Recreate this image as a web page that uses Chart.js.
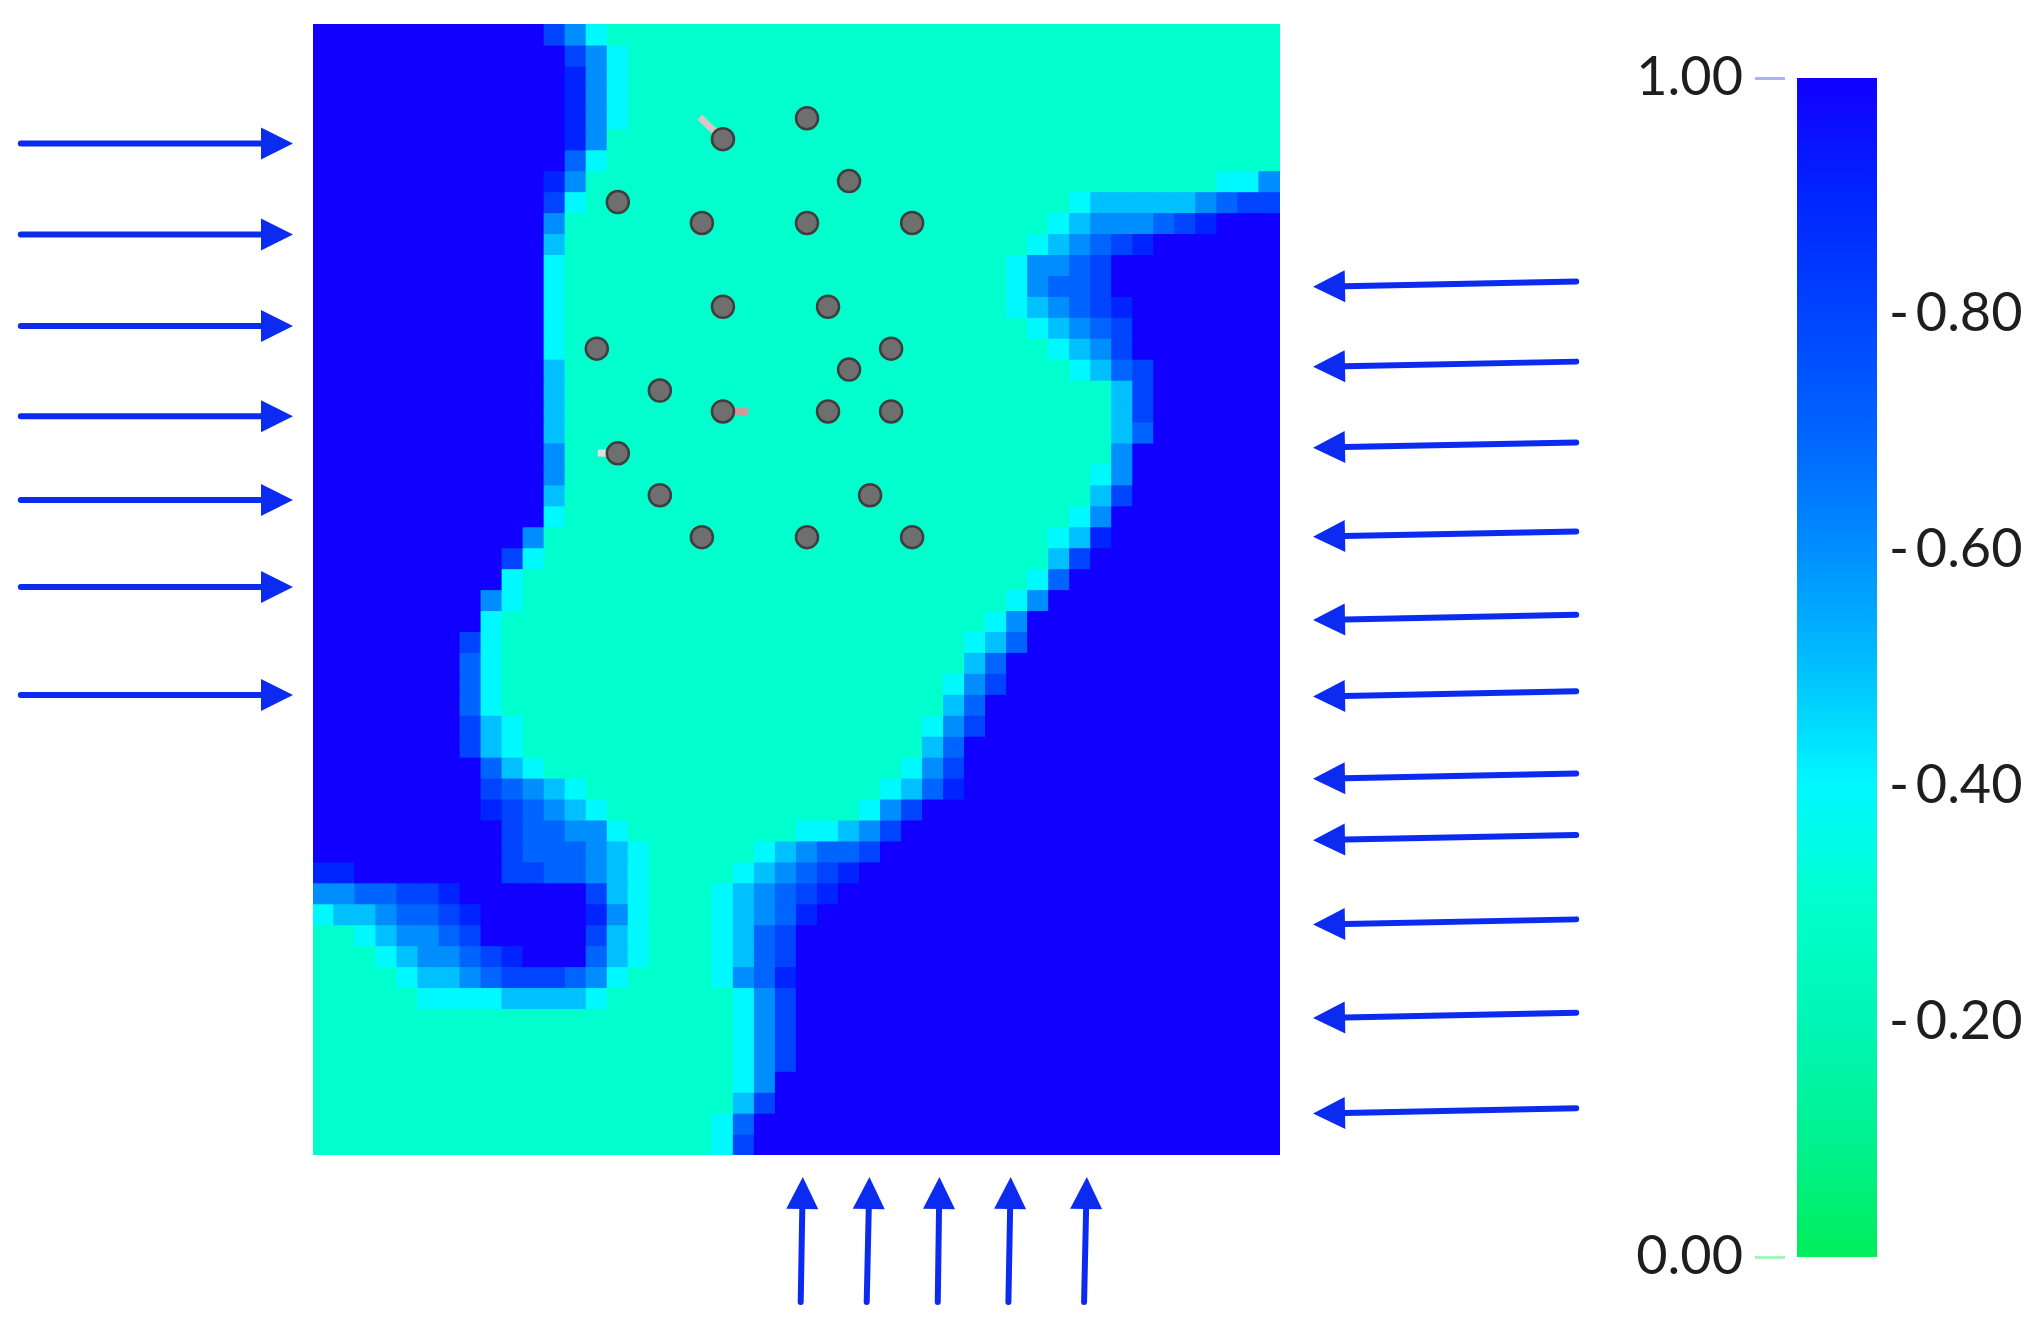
<!DOCTYPE html>
<html>
<head>
<meta charset="utf-8">
<script src="https://cdn.jsdelivr.net/npm/chart.js@4.4.0/dist/chart.umd.min.js"></script>
<style>
  body { margin: 0; background: #fff; }
  #wrap { position: relative; width: 2037px; height: 1320px; }
  #field-chart { position: absolute; left: 0; top: 0; }
  #scale-chart { position: absolute; left: 1600px; top: 0; }
</style>
</head>
<body>
<div id="wrap">
  <canvas id="field-chart" width="1600" height="1320"></canvas>
  <canvas id="scale-chart" width="437" height="1320"></canvas>
</div>
<script>
// field grid: 46 columns x 54 rows, one string per row (top to bottom)
// run-length tokens "level:count", level B = 1.00, digit d = d/10
const nCols = 46;
const fieldRows = [
  'B:11 8 6 4 3:32',
  'B:12 8 6 4 3:31',
  'B:12 9 6 4 3:31',
  'B:12 9 6 4 3:31',
  'B:12 9 6 4 3:31',
  'B:12 9 6 3:32',
  'B:12 7 4 3:32',
  'B:11 9 6 3:30 4 4 6',
  'B:11 8 4 3:23 4 5:5 6 7 8 8',
  'B:11 6 3:23 4 5 6:3 7 8 9 B:3',
  'B:11 5 3:22 4 5 6 7 8 9 B:6',
  'B:11 4 3:21 4 6 6 7 8 B:8',
  'B:11 4 3:21 4 6 7 7 8 B:8',
  'B:11 4 3:21 4 5 6 7 8 9 B:7',
  'B:11 4 3:22 4 5 6 7 8 B:7',
  'B:11 4 3:23 4 5 6 8 B:7',
  'B:11 5 3:24 4 5 7 8 B:6',
  'B:11 5 3:26 5 8 B:6',
  'B:11 5 3:26 5 8 B:6',
  'B:11 5 3:26 5 7 B:6',
  'B:11 6 3:26 6 B:7',
  'B:11 6 3:25 4 6 B:7',
  'B:11 5 3:25 5 8 B:7',
  'B:11 4 3:24 4 6 B:8',
  'B:10 6 3:24 4 5 9 B:8',
  'B:9 8 4 3:24 5 8 B:9',
  'B:9 4 3:24 4 7 B:10',
  'B:8 6 4 3:23 4 6 B:11',
  'B:8 4 3:23 4 6 B:12',
  'B:7 8 4 3:22 4 5 7 B:12',
  'B:7 7 4 3:22 5 7 B:13',
  'B:7 7 4 3:21 4 6 8 B:13',
  'B:7 7 4 3:21 5 7 B:14',
  'B:7 8 5 4 3:19 4 6 8 B:14',
  'B:7 8 5 4 3:19 5 7 B:15',
  'B:8 7 5 4 3:17 4 6 8 B:15',
  'B:8 8 7 6 5 4 3:14 4 5 7 9 B:15',
  'B:8 9 8 7 6 5 4 3:12 4 6 8 B:17',
  'B:9 8 7 7 6 6 4 3:8 4 4 5 6 8 B:18',
  'B:9 8 7 7 7 6 5 4 3:5 4 5 6 7 7 8 B:19',
  '9 9 B:7 8 8 7 7 6 5 4 3:4 4 5 6 7 8 9 B:20',
  '6 6 7 7 8 8 9 B:6 8 5 4 3:3 4 5 6 7 8 9 B:21',
  '4 5 5 6 7 7 8 9 B:5 9 6 4 3:3 4 5 6 7 9 B:22',
  '3 3 4 5 6 6 7 8 B:5 8 5 4 3:3 4 5 7 8 B:23',
  '3:3 4 5 6 6 7 8 9 B:3 7 5 4 3:3 4 5 7 8 B:23',
  '3:4 4 5 5 6 7 8 8 8 7 6 4 3:4 4 6 7 9 B:23',
  '3:5 4 4 4 4 5 5 5 5 4 3:6 4 6 8 B:23',
  '3:20 4 6 8 B:23',
  '3:20 4 6 8 B:23',
  '3:20 4 6 8 B:23',
  '3:20 4 6 B:24',
  '3:20 5 8 B:24',
  '3:19 4 7 B:25',
  '3:19 4 8 B:25'
];

// particles (grid units, cell centres)
const particleX = [23.5, 19.5, 25.5, 14.5, 18.5, 23.5, 28.5, 19.5, 24.5, 13.5, 27.5, 25.5, 16.5, 19.5, 24.5, 27.5, 14.5, 16.5, 26.5, 18.5, 23.5, 28.5];
const particleY = [4.5, 5.5, 7.5, 8.5, 9.5, 9.5, 9.5, 13.5, 13.5, 15.5, 15.5, 16.5, 17.5, 18.5, 18.5, 18.5, 20.5, 22.5, 22.5, 24.5, 24.5, 24.5];

// small sticks on three particles
const tailX0 = [19.5, 19.5, 14.5];
const tailY0 = [5.5, 18.5, 20.5];
const tailX1 = [18.4, 20.7, 13.55];
const tailY1 = [4.45, 18.5, 20.48];
const tailColors = ['#d8c6c6', '#c99c9a', '#e6dcdc'];

// inflow arrows (grid units)
const leftArrowY = [5.71, 10.05, 14.42, 18.73, 22.73, 26.88, 32.04];
const rightArrowY = [12.55, 16.37, 20.23, 24.48, 28.46, 32.11, 36.04, 38.97, 43.0, 47.46, 52.02];
const bottomArrowX = [23.3, 26.47, 29.8, 33.19, 36.81];
const bottomArrowTailX = [23.2, 26.34, 29.72, 33.08, 36.68];

// colour bar
const cmapStops = [0, 0.1, 0.2, 0.3, 0.4, 0.5, 0.6, 0.7, 0.8, 0.9, 1.0];
const cmapColors = ['#00ee5a', '#00f290', '#00f6b6', '#00ffcc', '#00f8ff', '#00c0ff', '#008eff', '#0064ff', '#0044ff', '#0024ff', '#1200ff'];
const barTicks = [0.2, 0.4, 0.6, 0.8];
const endTicks = [0, 1];

function decodeRow(s) {
    const out = [];
    s.split(' ').forEach(tok => {
        const [ch, n] = tok.split(':');
        const v = ch === 'B' ? 1 : Number(ch) / 10;
        for (let i = 0; i < (n ? Number(n) : 1); i++) out.push(v);
    });
    while (out.length < nCols) out.push(out[out.length - 1]);
    return out.slice(0, nCols);
}

function hexRgb(h) {
    return [1, 3, 5].map(i => parseInt(h.slice(i, i + 2), 16));
}

function colorFor(v) {
    let i = 0;
    while (i < cmapStops.length - 2 && v > cmapStops[i + 1]) i++;
    const t = (v - cmapStops[i]) / (cmapStops[i + 1] - cmapStops[i]);
    const a = hexRgb(cmapColors[i]), b = hexRgb(cmapColors[i + 1]);
    const c = a.map((x, k) => Math.round(x + (b[k] - x) * t));
    return `rgb(${c[0]},${c[1]},${c[2]})`;
}

const fieldValues = fieldRows.map(decodeRow);
const colLabels = Array.from({ length: nCols }, (_, i) => String(i));

// one floating bar per cell, one dataset per row
const rowDatasets = fieldValues.map((vals, r) => ({
    type: 'bar',
    label: 'row ' + r,
    data: vals.map(() => [r, r + 1]),
    backgroundColor: vals.map(colorFor),
    grouped: false,
    barPercentage: 1,
    categoryPercentage: 1,
    borderWidth: 0,
    inflateAmount: 0.6,
    xAxisID: 'x',
    yAxisID: 'y',
    order: 3
}));

const tailDatasets = tailX0.map((x, i) => ({
    type: 'line',
    data: [{ x: x, y: tailY0[i] }, { x: tailX1[i], y: tailY1[i] }],
    borderColor: tailColors[i],
    borderWidth: 7,
    borderCapStyle: 'butt',
    pointRadius: 0,
    xAxisID: 'xp',
    yAxisID: 'y',
    order: 1
}));

const particleDataset = {
    type: 'scatter',
    data: particleX.map((x, i) => ({ x: x, y: particleY[i] })),
    pointRadius: 11,
    pointBackgroundColor: '#6f6f6f',
    pointBorderColor: '#3e3e3e',
    pointBorderWidth: 2.5,
    xAxisID: 'xp',
    yAxisID: 'y',
    order: 0
};

function drawArrow(ctx, x0, y0, x1, y1) {
    const ang = Math.atan2(y1 - y0, x1 - x0);
    const headLen = 32, headHalf = 16;
    const bx = x1 - headLen * Math.cos(ang), by = y1 - headLen * Math.sin(ang);
    ctx.beginPath();
    ctx.moveTo(x0, y0);
    ctx.lineTo(bx, by);
    ctx.stroke();
    ctx.beginPath();
    ctx.moveTo(x1, y1);
    ctx.lineTo(bx + headHalf * Math.sin(ang), by - headHalf * Math.cos(ang));
    ctx.lineTo(bx - headHalf * Math.sin(ang), by + headHalf * Math.cos(ang));
    ctx.closePath();
    ctx.fill();
}

const arrowPlugin = {
    id: 'inflowArrows',
    afterDraw(chart) {
        const { ctx } = chart;
        const xs = chart.scales.xp, ys = chart.scales.y;
        ctx.save();
        ctx.strokeStyle = '#0b2cf0';
        ctx.fillStyle = '#0b2cf0';
        ctx.lineWidth = 6;
        ctx.lineCap = 'round';
        leftArrowY.forEach(v => {
            drawArrow(ctx, xs.getPixelForValue(-13.9), ys.getPixelForValue(v),
                xs.getPixelForValue(-0.95), ys.getPixelForValue(v));
        });
        rightArrowY.forEach(v => {
            drawArrow(ctx, xs.getPixelForValue(60.09), ys.getPixelForValue(v - 0.25),
                xs.getPixelForValue(47.57), ys.getPixelForValue(v));
        });
        bottomArrowX.forEach((v, i) => {
            drawArrow(ctx, xs.getPixelForValue(bottomArrowTailX[i]), ys.getPixelForValue(61.02),
                xs.getPixelForValue(v), ys.getPixelForValue(55.05));
        });
        ctx.restore();
    }
};

new Chart(document.getElementById('field-chart'), {
    type: 'bar',
    data: {
        labels: colLabels,
        datasets: [...rowDatasets, ...tailDatasets, particleDataset]
    },
    options: {
        responsive: false,
        animation: false,
        events: [],
        layout: { padding: { left: 313, top: 24, right: 320, bottom: 165 } },
        plugins: { legend: { display: false }, tooltip: { enabled: false } },
        scales: {
            x: { type: 'category', display: false, offset: true },
            xp: { type: 'linear', display: false, offset: false, min: 0, max: nCols },
            y: { type: 'linear', display: false, offset: false, min: 0, max: fieldRows.length, reverse: true }
        }
    },
    plugins: [arrowPlugin]
});

// colour bar with its two axes
const tickFont = { family: 'Lato', size: 54 };

new Chart(document.getElementById('scale-chart'), {
    type: 'bar',
    data: {
        labels: ['phi'],
        datasets: [{
            data: [[0, 1]],
            backgroundColor: function(context) {
                const chart = context.chart;
                const ys = chart.scales.y;
                if (!chart.chartArea || !ys) return cmapColors[cmapColors.length - 1];
                const g = chart.ctx.createLinearGradient(0, ys.getPixelForValue(0), 0, ys.getPixelForValue(1));
                cmapStops.forEach((s, i) => g.addColorStop(s, cmapColors[i]));
                return g;
            },
            barPercentage: 80 / 104,
            categoryPercentage: 1,
            borderWidth: 0,
            yAxisID: 'y'
        }]
    },
    options: {
        responsive: false,
        animation: false,
        events: [],
        layout: { padding: { top: 78, bottom: 63, left: 0, right: 0 } },
        plugins: { legend: { display: false }, tooltip: { enabled: false } },
        scales: {
            x: { display: false },
            y: {
                position: 'right',
                min: 0,
                max: 1,
                afterBuildTicks: axis => { axis.ticks = barTicks.map(v => ({ value: v })); },
                afterFit: axis => { axis.width = 148; },
                grid: { display: false, drawTicks: false },
                border: { display: false },
                ticks: {
                    padding: 0,
                    color: '#1e1e1e',
                    font: tickFont,
                    callback: v => '-\u2009' + Number(v).toFixed(2)
                }
            },
            yl: {
                position: 'left',
                min: 0,
                max: 1,
                afterBuildTicks: axis => { axis.ticks = endTicks.map(v => ({ value: v })); },
                afterFit: axis => { axis.width = 185; },
                grid: {
                    drawOnChartArea: false,
                    tickLength: 30,
                    lineWidth: 3,
                    color: c => (c.tick && c.tick.value === 1) ? '#aab3ff' : '#a6f5b8'
                },
                border: { display: false },
                ticks: {
                    padding: 12,
                    color: '#1e1e1e',
                    font: tickFont,
                    callback: v => Number(v).toFixed(2)
                }
            }
        }
    }
});
</script>
</body>
</html>
